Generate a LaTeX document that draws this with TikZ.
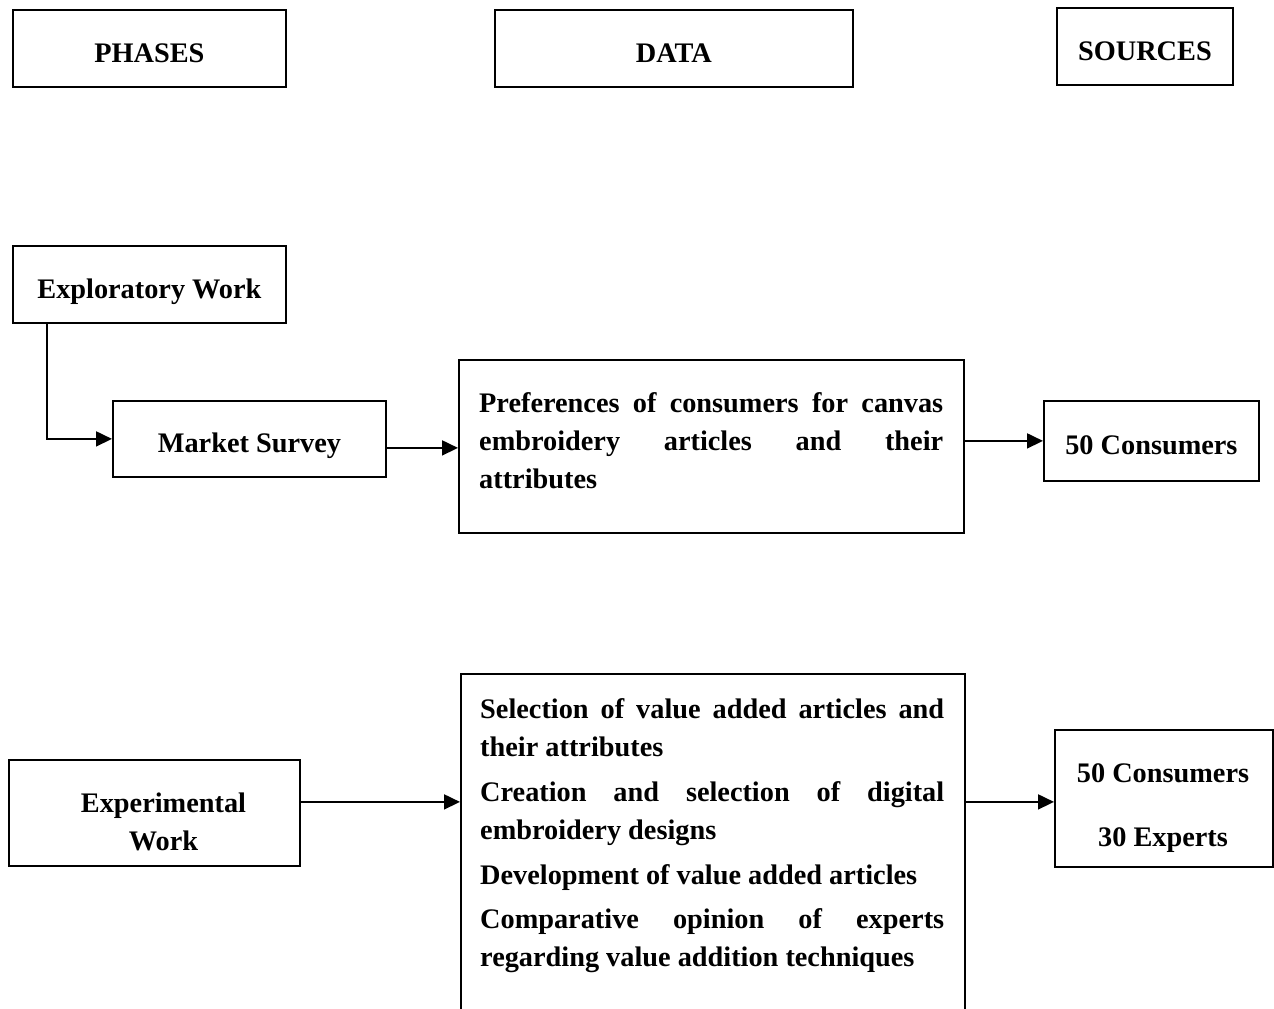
\documentclass[tikz,border=0pt]{standalone}
\usepackage{fontspec}
\setmainfont{Liberation Serif}
\usetikzlibrary{arrows.meta}
\begin{document}
\begin{tikzpicture}[x=1pt,y=-1pt,
  box/.style={draw, line width=1.8pt, anchor=north west, inner sep=0pt},
  txt/.style={font=\fontsize{28.3}{38}\selectfont\bfseries, inner sep=0pt},
  onel/.style={txt, text height=28pt, text depth=0pt},
  para/.style={txt, anchor=north west, text width=464pt, align=justify},
  arr/.style={line width=1.8pt, -{Triangle[length=16pt,width=15pt]}}]
\useasboundingbox (0,0) rectangle (1274,1009);
% headers
\node[box, onel, minimum width=273pt, minimum height=77pt] (phases) at (12,9) {PHASES};
\node[box, onel, minimum width=358pt, minimum height=77pt] (data) at (494,9) {DATA};
\node[box, onel, minimum width=176pt, minimum height=77pt] (sources) at (1056,7) {SOURCES};
% exploratory
\node[box, onel, minimum width=273pt, minimum height=77pt] (explo) at (12,245) {Exploratory Work};
\node[box, onel, minimum width=273pt, minimum height=76pt] (market) at (112,400) {Market Survey};
\node[box, minimum width=505pt, minimum height=173pt] (pref) at (458,359) {};
\node[para] (preftext) at (479,392) {Preferences of consumers for canvas\linebreak embroidery articles and their\linebreak attributes};
\node[box, onel, minimum width=215pt, minimum height=80pt] (cons) at (1043,400) {50 Consumers};
% experimental
\node[box, minimum width=291pt, minimum height=106pt] (exper) at (8,759) {};
\node[txt, align=center] (expertext) at (163.5,821.5) {Experimental\\Work};
\node[box, minimum width=504pt, minimum height=400pt] (expdata) at (460,673) {};
\node[para] (expdatatext) at (480,698) {Selection of value added articles and\linebreak their attributes\par\vspace{7pt}
Creation and selection of digital\linebreak embroidery designs\par\vspace{7pt}
Development of value added articles\par\vspace{6pt}
Comparative opinion of experts\linebreak regarding value addition techniques};
\node[box, minimum width=218pt, minimum height=137pt] (src2) at (1054,729) {};
\node[txt, align=center] (src2text) at (1163,808) {50 Consumers\\[26pt]30 Experts};
% connectors
\coordinate (a1) at (47,322);
\draw[arr] (a1) |- (market.west);
\coordinate (a2) at ([yshift=-9pt]market.east);
\draw[arr] (a2) -- (a2 -| pref.west);
\draw[arr] (cons.west -| pref.east) -- (cons.west);
\coordinate (a3) at ([yshift=11pt]exper.east);
\draw[arr] (a3) -- (a3 -| expdata.west);
\draw[arr] (a3 -| expdata.east) -- (a3 -| src2.west);
\end{tikzpicture}
\end{document}
